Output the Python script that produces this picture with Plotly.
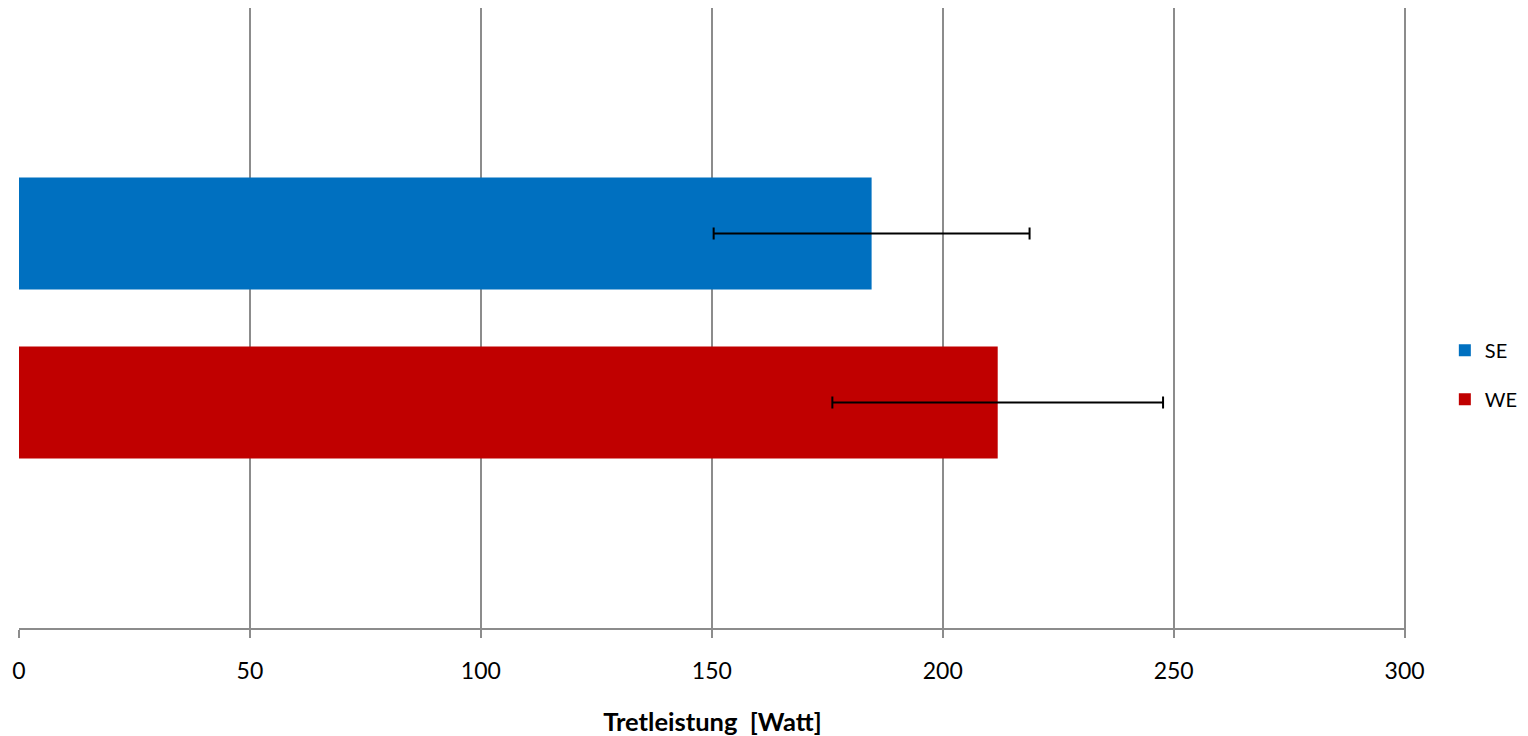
import plotly.graph_objects as go

category = [""]
series = ["SE", "WE"]
values = {"SE": [184.6], "WE": [211.9]}
errors = {"SE": [34.2], "WE": [35.8]}
colors = {"SE": "#0070C0", "WE": "#C00000"}
x_ticks = [0, 50, 100, 150, 200, 250, 300]

fig = go.Figure()
for s in series:
    fig.add_trace(go.Bar(
        name=s, y=category, x=values[s], orientation="h", legendgroup=s,
        marker=dict(color=colors[s], line=dict(width=0)),
        error_x=dict(type="data", array=errors[s], color="black", thickness=2, width=6),
    ))

font = "Lato, 'Open Sans', sans-serif"
# the page body adds an 8px margin, so the figure is shifted by 8px
fig.update_layout(
    width=1528, height=728,
    margin=dict(l=11, r=130, t=0, b=108, autoexpand=False),
    paper_bgcolor="white", plot_bgcolor="white",
    barmode="group", bargap=0.455, bargroupgap=0.337,
    font=dict(family=font, size=23, color="black"),
    legend=dict(x=1.028, y=0.4085, xanchor="left", yanchor="middle",
                font=dict(size=20), itemwidth=30, tracegroupgap=20),
    xaxis=dict(
        range=[0, 300.3], tickvals=x_ticks, ticktext=[str(v) for v in x_ticks],
        showgrid=True, gridcolor="#8c8c8c", gridwidth=1.5,
        showline=True, linecolor="#8c8c8c", linewidth=1.5,
        ticks="outside", ticklen=8, tickcolor="#8c8c8c", tickwidth=1.5,
        ticklabelstandoff=14, zeroline=False, automargin=False,
        title=dict(text="<b>Tretleistung&nbsp; [Watt]</b>", font=dict(size=25.5), standoff=32),
    ),
    yaxis=dict(autorange="reversed", showticklabels=False, showgrid=False,
               zeroline=False, showline=False, ticks="", automargin=False),
)

fig.write_html("out.html")
